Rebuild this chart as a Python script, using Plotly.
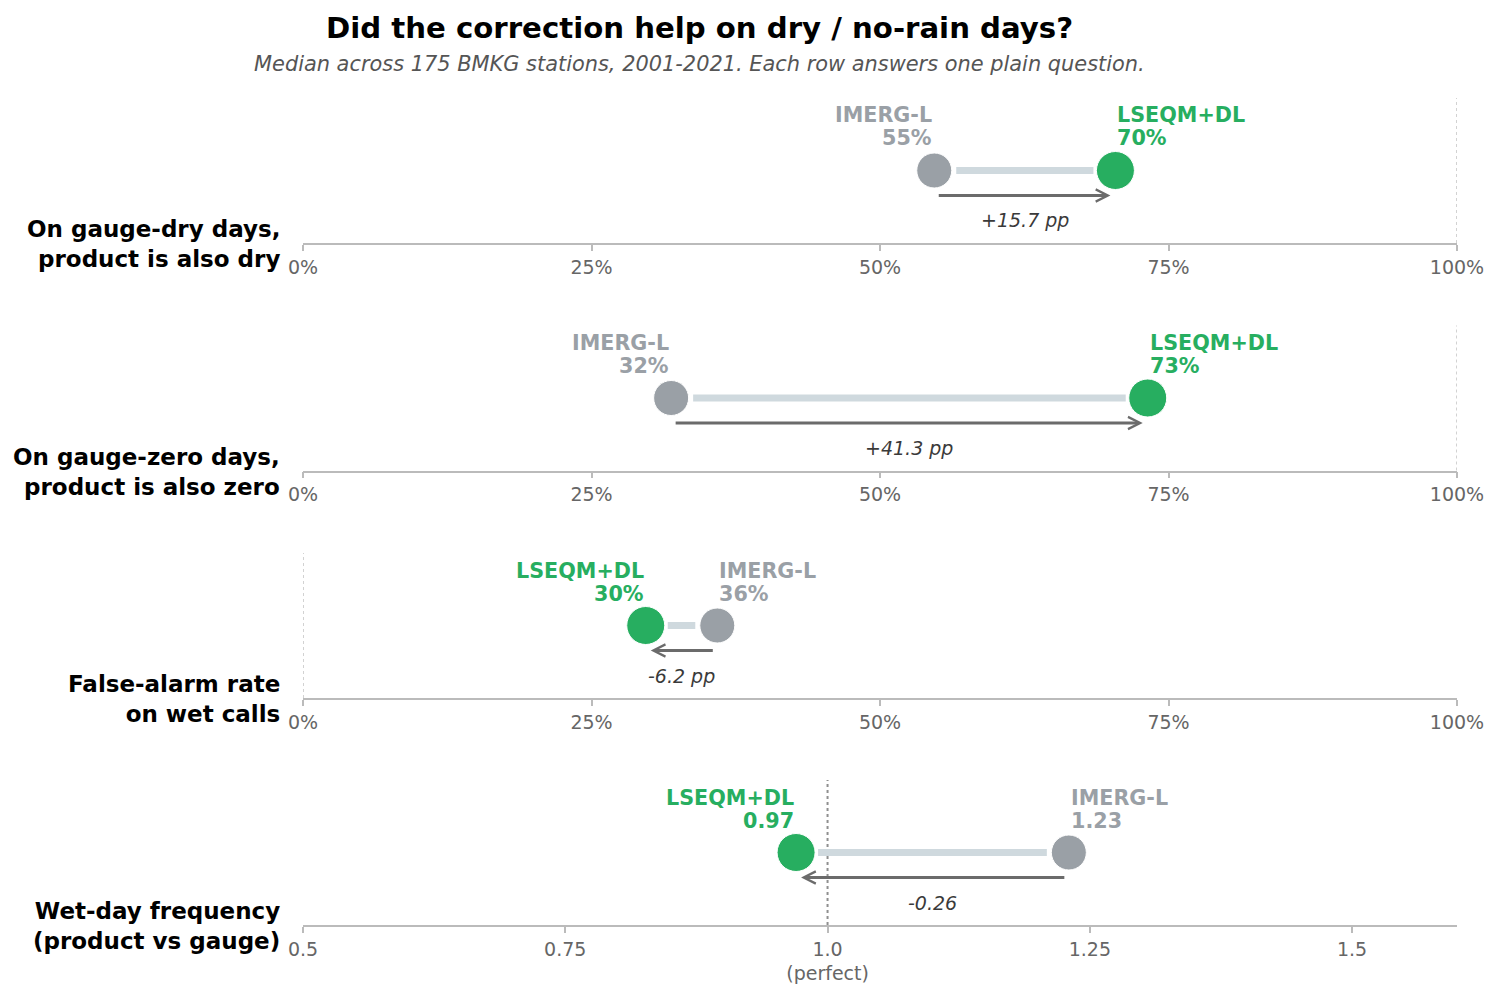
import plotly.graph_objects as go
from plotly.subplots import make_subplots

# ---------------- data ----------------
ROW_LABELS = [
    "On gauge-dry days,<br>product is also dry",
    "On gauge-zero days,<br>product is also zero",
    "False-alarm rate<br>on wet calls",
    "Wet-day frequency<br>(product vs gauge)",
]
IMERG = [54.7, 31.9, 35.9, 1.23]
LSEQM = [70.4, 73.2, 29.7, 0.97]
IS_PERCENT = [True, True, True, False]
REF_LINE = [100, 100, 0, 1.0]

PCT_TICKVALS = [0, 25, 50, 75, 100]
PCT_TICKTEXT = ["0%", "25%", "50%", "75%", "100%"]
RATIO_TICKVALS = [0.5, 0.75, 1.0, 1.25, 1.5]
RATIO_TICKTEXT = ["0.5", "0.75", "1.0<br>(perfect)", "1.25", "1.5"]

NAME_A = "IMERG-L"
NAME_B = "LSEQM+DL"

TITLE = "Did the correction help on dry / no-rain days?"
SUBTITLE = "Median across 175 BMKG stations, 2001-2021. Each row answers one plain question."

# ---------------- style ----------------
W, H = 1499, 997
FONT = "DejaVu Sans"
GRAY = "#9aa0a6"
GREEN = "#27ae60"
LINK = "#cfd9de"
ARROW = "#6b6b6b"
PANEL_TOPS = [98, 325.5, 553, 780]
PANEL_H = 145
X0, X1 = 303, 1457

fig = make_subplots(rows=4, cols=1)

annotations = []
shapes = []

for i in range(4):
    r = i + 1
    xs = "" if r == 1 else str(r)
    xref, yref = f"x{xs}", f"y{xs}"
    a, b = IMERG[i], LSEQM[i]
    if IS_PERCENT[i]:
        rng = [0, 100]
        tv, tt = PCT_TICKVALS, PCT_TICKTEXT
        fa, fb = f"{a:.0f}%", f"{b:.0f}%"
        dtxt = f"{b - a:+.1f} pp"
    else:
        rng = [0.5, 1.6]
        tv, tt = RATIO_TICKVALS, RATIO_TICKTEXT
        fa, fb = f"{a:.2f}", f"{b:.2f}"
        dtxt = f"{b - a:+.2f}"
    span = rng[1] - rng[0]
    px_per_unit = (X1 - X0) / span
    off = 22 / px_per_unit
    lo, hi = min(a, b), max(a, b)

    fig.add_trace(go.Scatter(x=[lo + off, hi - off], y=[0.5, 0.5], mode="lines",
                             line=dict(color=LINK, width=7), hoverinfo="skip",
                             showlegend=False), row=r, col=1)
    fig.add_trace(go.Scatter(x=[a], y=[0.5], mode="markers",
                             marker=dict(size=35, color=GRAY, line=dict(color="white", width=1)),
                             showlegend=False), row=r, col=1)
    fig.add_trace(go.Scatter(x=[b], y=[0.5], mode="markers",
                             marker=dict(size=38, color=GREEN, line=dict(color="white", width=1)),
                             showlegend=False), row=r, col=1)

    # value labels
    for v, name, ftxt, col in [(a, NAME_A, fa, GRAY), (b, NAME_B, fb, GREEN)]:
        anchor = "left" if v == hi else "right"
        for txt, ys in [(name, 55), (ftxt, 32)]:
            annotations.append(dict(x=v, y=0.5, xref=xref, yref=yref, text=f"<b>{txt}</b>",
                                    showarrow=False, xanchor=anchor, yanchor="middle",
                                    yshift=ys, xshift=0,
                                    font=dict(family=FONT, size=20.7, color=col)))
    # arrow
    ay = 0.5 - 25 / PANEL_H
    annotations.append(dict(x=b, y=ay, ax=a, ay=ay, xref=xref, yref=yref,
                            axref=xref, ayref=yref, text="", showarrow=True,
                            arrowhead=5, arrowsize=0.85, arrowwidth=2.8, arrowcolor=ARROW,
                            standoff=5, startstandoff=3))
    # delta text
    annotations.append(dict(x=(a + b) / 2, y=0.5, xref=xref, yref=yref, text=f"<i>{dtxt}</i>",
                            showarrow=False, xanchor="center", yanchor="middle", yshift=-50,
                            font=dict(family=FONT, size=19, color="#3a3a3a")))
    # row label
    bottom = PANEL_TOPS[i] + PANEL_H
    annotations.append(dict(x=280 / W, y=1 - (bottom + 1) / H, xref="paper", yref="paper",
                            text=f"<b>{ROW_LABELS[i]}</b>", showarrow=False,
                            xanchor="right", yanchor="middle", align="right", xshift=2,
                            font=dict(family=FONT, size=23, color="black")))
    # reference line
    if IS_PERCENT[i]:
        ldash = dict(color="#b5b5b5", width=1.2, dash="dot")
    else:
        ldash = dict(color="#8f8f8f", width=2, dash="dot")
    shapes.append(dict(type="line", xref=xref, yref=f"{yref} domain", x0=REF_LINE[i], x1=REF_LINE[i],
                       y0=0, y1=1, line=ldash, layer="below"))

    top = PANEL_TOPS[i]
    fig.update_xaxes(row=r, col=1, domain=[X0 / W, X1 / W], range=rng, tickvals=tv, ticktext=tt,
                     showline=True, linecolor="#bbbbbb", linewidth=1.8, ticks="outside",
                     ticklen=6, tickwidth=1.5, tickcolor="#bbbbbb", showgrid=False, zeroline=False,
                     tickfont=dict(family=FONT, size=19, color="#666666"), fixedrange=True,
                     automargin=False)
    fig.update_yaxes(row=r, col=1, domain=[1 - bottom / H, 1 - top / H], range=[0, 1],
                     visible=False, showgrid=False, zeroline=False, fixedrange=True,
                     automargin=False)

annotations.append(dict(x=699 / W, y=1 - 28 / H, xref="paper", yref="paper",
                        text=f"<b>{TITLE}</b>", showarrow=False, xanchor="center", yanchor="middle",
                        font=dict(family=FONT, size=29.2, color="black")))
annotations.append(dict(x=699 / W, y=1 - 64 / H, xref="paper", yref="paper",
                        text=f"<i>{SUBTITLE}</i>", showarrow=False, xanchor="center", yanchor="middle",
                        font=dict(family=FONT, size=20.9, color="#555555")))

fig.update_layout(template="none", width=W, height=H, autosize=False,
                  margin=dict(l=0, r=0, t=0, b=0, pad=0),
                  paper_bgcolor="white", plot_bgcolor="white",
                  annotations=annotations, shapes=shapes, showlegend=False,
                  font=dict(family=FONT))

fig.write_html("out.html", config={"displayModeBar": False},
               post_script="document.body.style.margin='0';document.body.style.overflow='hidden';")
